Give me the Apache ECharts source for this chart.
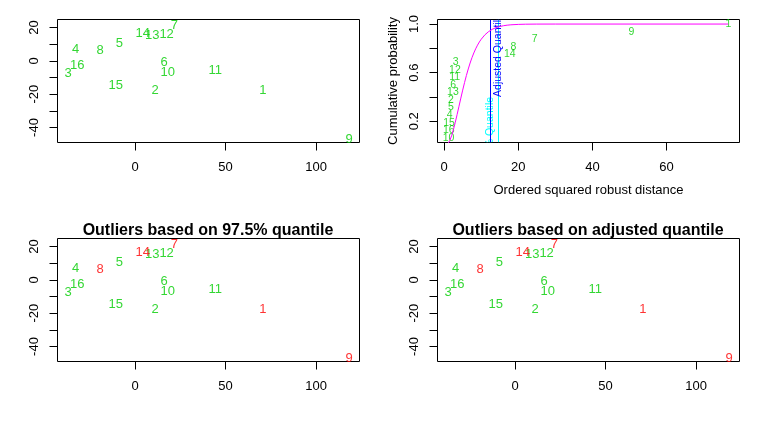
<!DOCTYPE html>
<html><head><meta charset="utf-8">
<script src="https://cdn.jsdelivr.net/npm/echarts@6/dist/echarts.min.js"></script>
<style>html,body{margin:0;padding:0;background:#fff}#c{width:759px;height:438px}</style>
</head><body><div id="c"></div>
<script>
// ---- data ----
const pointIds = ['1','2','3','4','5','6','7','8','9','10','11','12','13','14','15','16'];
const scoreX = [70.6, 11.0, -37.0, -32.9, -8.7, 16.0, 21.7, -19.3, 118.2, 18.0, 44.3, 17.4, 9.5, 4.2, -10.7, -32.0];
const scoreY = [-17.6, -18.0, -7.6, 6.8, 10.4, -1.2, 21.4, 6.4, -47.0, -7.2, -5.8, 16.0, 15.4, 16.4, -14.8, -2.6];

const sortedIds = ['10','16','15','4','5','2','13','6','11','12','3','14','8','7','9','1'];
const sortedDist = [1.2, 1.25, 1.3, 1.5, 1.8, 1.85, 2.35, 2.4, 2.85, 2.9, 3.1, 17.7, 18.7, 24.4, 50.5, 76.7];
const cumProb = [0.0625, 0.125, 0.1875, 0.25, 0.3125, 0.375, 0.4375, 0.5, 0.5625, 0.625, 0.6875, 0.75, 0.8125, 0.875, 0.9375, 1.0];

const curveX = [0, 0.5, 1, 1.5, 2, 2.5, 3, 3.5, 4, 4.5, 5, 5.5, 6, 6.5, 7, 7.5, 8, 8.5, 9, 9.5, 10, 11, 12, 13, 14, 15, 16, 17, 18, 20, 22, 25, 30, 76.7];
const curveY = [0, 0.0022, 0.0144, 0.0405, 0.0803, 0.1315, 0.1912, 0.2560, 0.3233, 0.3907, 0.4562, 0.5185, 0.5768, 0.6304, 0.6792, 0.7229, 0.7619, 0.7963, 0.8264, 0.8527, 0.8753, 0.9116, 0.9380, 0.9570, 0.9704, 0.9797, 0.9862, 0.9907, 0.9938, 0.9972, 0.9988, 0.9997, 1.0, 1.0];

const quantile975 = 14.45;
const adjustedQuantile = 12.4;
const quantileTextY = 0.4;
const quantileText = '97.5% Quantile';
const adjustedText = 'Adjusted Quantile';

const outliers975 = ['1','7','8','9','14'];
const outliersAdj = ['1','7','8','9','14'];

const scoreXTicks = [0, 50, 100];
const scoreYTicks = [-40, -30, -20, -10, 0, 10, 20];
const scoreYLabels = [-40, -20, 0, 20];
const distTicks = [0, 20, 40, 60];
const probTicks = [0.2, 0.4, 0.6, 0.8, 1.0];
const probLabels = [0.2, 0.6, 1.0];

const titleLeft = 'Outliers based on 97.5% quantile';
const titleRight = 'Outliers based on adjusted quantile';
const xNameDist = 'Ordered squared robust distance';
const yNameProb = 'Cumulative probability';

// ---- styles ----
const FONT = '"Liberation Sans", Arial, Helvetica, sans-serif';
const GREEN = '#00CD00', RED = '#FF0000', MAGENTA = '#FF00FF', CYAN = '#00FFFF', BLUE = '#0000FF';

const chart = echarts.init(document.getElementById('c'), null, {renderer: 'canvas'});

const gridBox = (l, t) => ({left: l, top: t, width: 302, height: 123, show: true, borderColor: '#000', borderWidth: 1, backgroundColor: 'transparent', containLabel: false, outerBoundsMode: 'none'});

function xAx(gi, min, max, ticks, extra) {
  return Object.assign({
    gridIndex: gi, type: 'value', min, max, position: 'bottom',
    axisLine: {show: false, onZero: false}, splitLine: {show: false},
    axisTick: {show: true, length: 8, customValues: ticks, lineStyle: {color: '#000', width: 1}},
    axisLabel: {show: true, customValues: ticks, margin: 18, fontSize: 13, color: '#000', fontFamily: FONT}
  }, extra || {});
}
function yAx(gi, min, max, ticks, labels, fmt, extra) {
  return Object.assign({
    gridIndex: gi, type: 'value', min, max, position: 'left',
    axisLine: {show: false, onZero: false}, splitLine: {show: false},
    axisTick: {show: true, length: 8, customValues: ticks, lineStyle: {color: '#000', width: 1}},
    axisLabel: {show: true, customValues: labels, rotate: 90, margin: 17, fontSize: 13, color: '#000', fontFamily: FONT, formatter: fmt}
  }, extra || {});
}

function labelSeries(gi, ids, xs, ys, size, colorFn) {
  return {
    type: 'scatter', xAxisIndex: gi, yAxisIndex: gi, silent: true,
    symbol: 'circle', symbolSize: 1, itemStyle: {color: 'transparent'},
    data: ids.map((id, i) => ({name: id, value: [xs[i], ys[i]], label: {color: colorFn(id)}})),
    label: {show: true, position: 'inside', formatter: '{b}', fontSize: size, fontFamily: FONT},
    emphasis: {disabled: true}
  };
}

function quantileSeries(value, text, color, side) {
  return {
    type: 'custom', xAxisIndex: 1, yAxisIndex: 1, silent: true, clip: true,
    data: [[value, quantileTextY]],
    renderItem: function (params, api) {
      const p = api.coord([api.value(0), api.value(1)]);
      const cs = params.coordSys;
      const lx = Math.round(p[0]) + 0.5;
      return {
        type: 'group',
        clipPath: {type: 'rect', shape: {x: cs.x, y: cs.y, width: cs.width, height: cs.height}},
        children: [
          {type: 'line', shape: {x1: lx, y1: cs.y, x2: lx, y2: cs.y + cs.height}, style: {stroke: color, lineWidth: 1}},
          {type: 'text', x: p[0] + side * 8, y: p[1], rotation: Math.PI / 2,
           style: {text: text, fill: color, font: '10.5px ' + FONT, align: side > 0 ? 'left' : 'right', verticalAlign: 'middle'}}
        ]
      };
    }
  };
}

const option = {
  animation: false,
  backgroundColor: '#fff',
  grid: [gridBox(57.5, 19.5), gridBox(437.5, 19.5), gridBox(57.5, 238.5), gridBox(437.5, 238.5)],
  xAxis: [
    xAx(0, -42.9, 124, scoreXTicks),
    xAx(1, -1.8, 79.7, distTicks, {name: xNameDist, nameLocation: 'middle', nameGap: 41, nameTextStyle: {fontSize: 13, color: '#000', fontFamily: FONT}}),
    xAx(2, -42.9, 124, scoreXTicks),
    xAx(3, -42.9, 124, scoreXTicks)
  ],
  yAxis: [
    yAx(0, -49, 24.8, scoreYTicks, scoreYLabels),
    yAx(1, 0.025, 1.0375, probTicks, probLabels, v => Number(v).toFixed(1), {name: yNameProb, nameLocation: 'middle', nameGap: 38, nameTextStyle: {fontSize: 13, color: '#000', fontFamily: FONT}}),
    yAx(2, -49, 24.8, scoreYTicks, scoreYLabels),
    yAx(3, -49, 24.8, scoreYTicks, scoreYLabels)
  ],
  graphic: [
    {type: 'text', x: 208, y: 230.5, silent: true, style: {text: titleLeft, align: 'center', verticalAlign: 'middle', font: 'bold 16px ' + FONT, fill: '#000'}},
    {type: 'text', x: 588, y: 230.5, silent: true, style: {text: titleRight, align: 'center', verticalAlign: 'middle', font: 'bold 16px ' + FONT, fill: '#000'}}
  ],
  series: [
    labelSeries(0, pointIds, scoreX, scoreY, 13, () => GREEN),
    labelSeries(1, sortedIds, sortedDist, cumProb, 10.5, () => GREEN),
    {
      type: 'line', xAxisIndex: 1, yAxisIndex: 1, silent: true, clip: true,
      data: curveX.map((x, i) => [x, curveY[i]]),
      symbol: 'none', lineStyle: {color: MAGENTA, width: 1}, itemStyle: {color: MAGENTA}
    },
    quantileSeries(quantile975, quantileText, CYAN, -1),
    quantileSeries(adjustedQuantile, adjustedText, BLUE, 1),
    labelSeries(2, pointIds, scoreX, scoreY, 13, id => outliers975.includes(id) ? RED : GREEN),
    labelSeries(3, pointIds, scoreX, scoreY, 13, id => outliersAdj.includes(id) ? RED : GREEN)
  ]
};
chart.setOption(option);
</script>
</body></html>
